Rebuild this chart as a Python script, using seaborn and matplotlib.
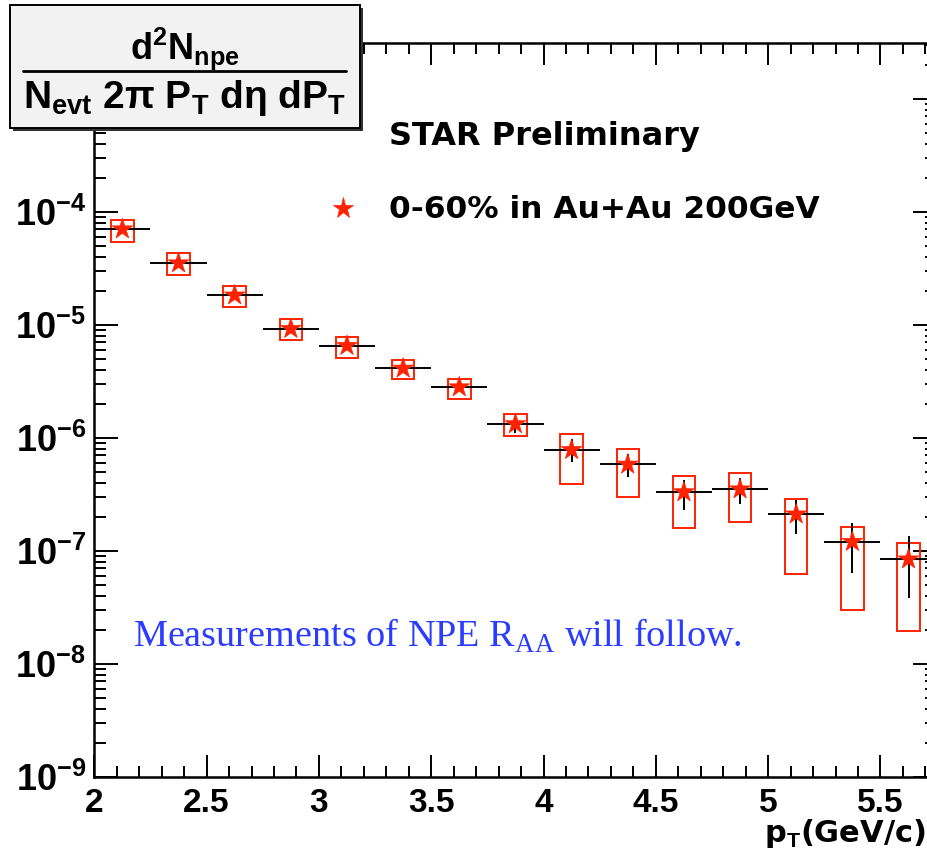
import numpy as np
import pandas as pd
import matplotlib
matplotlib.use("Agg")
import matplotlib.pyplot as plt
import seaborn as sns
from matplotlib.patches import Rectangle
from matplotlib.lines import Line2D
from matplotlib.ticker import FixedLocator, FuncFormatter, NullFormatter

# ── Data ────────────────────────────────────────────────────────────────────
pt_center = [2.125, 2.375, 2.625, 2.875, 3.125, 3.375, 3.625, 3.875,
             4.125, 4.375, 4.625, 4.875, 5.125, 5.375, 5.625]
pt_halfwidth = 0.125
yield_val = [7.0e-5, 3.5e-5, 1.82e-5, 9.2e-6, 6.5e-6, 4.1e-6, 2.8e-6, 1.32e-6,
             7.8e-7, 5.8e-7, 3.3e-7, 3.5e-7, 2.1e-7, 1.2e-7, 8.4e-8]
stat_lo = [6.7e-5, 3.35e-5, 1.75e-5, 8.8e-6, 6.2e-6, 3.9e-6, 2.65e-6, 1.09e-6,
           6.1e-7, 4.47e-7, 2.29e-7, 2.59e-7, 1.41e-7, 6.3e-8, 3.8e-8]
stat_hi = [7.3e-5, 3.65e-5, 1.9e-5, 9.6e-6, 6.8e-6, 4.3e-6, 2.95e-6, 1.53e-6,
           9.7e-7, 7.2e-7, 4.2e-7, 4.38e-7, 2.81e-7, 1.77e-7, 1.35e-7]
sys_lo = [5.43e-5, 2.74e-5, 1.44e-5, 7.3e-6, 5.1e-6, 3.29e-6, 2.19e-6, 1.04e-6,
          3.9e-7, 3.0e-7, 1.58e-7, 1.81e-7, 6.2e-8, 3.0e-8, 1.96e-8]
sys_hi = [8.45e-5, 4.28e-5, 2.2e-5, 1.12e-5, 7.8e-6, 4.87e-6, 3.33e-6, 1.62e-6,
          1.08e-6, 8.0e-7, 4.6e-7, 4.88e-7, 2.86e-7, 1.63e-7, 1.16e-7]
sys_box_halfwidth = 0.05

df = pd.DataFrame({"pt": pt_center, "y": yield_val,
                   "stat_lo": stat_lo, "stat_hi": stat_hi,
                   "sys_lo": sys_lo, "sys_hi": sys_hi})
df["label"] = "0-60% in Au+Au 200GeV"

RED = "#ff2200"
BLUE = "#2a3cff"

sns.set_style("ticks")
plt.rcParams["font.family"] = ["Liberation Sans", "DejaVu Sans"]
plt.rcParams["text.color"] = "black"
plt.rcParams["mathtext.fontset"] = "custom"
plt.rcParams["mathtext.rm"] = "Liberation Serif"
plt.rcParams["mathtext.bf"] = "Liberation Sans:bold"
plt.rcParams["mathtext.it"] = "Liberation Sans:italic"

W, H = 928, 855
fig = plt.figure(figsize=(W / 100, H / 100), dpi=100)
ax = fig.add_axes([94.3 / W, (H - 776.7) / H, 842.3 / W, 733.7 / H])
ax.set_yscale("log")
ax.set_xlim(2.0, 5.75)
ax.set_ylim(1e-9, 3.11e-3)

# systematic boxes
for r in df.itertuples():
    ax.add_patch(Rectangle((r.pt - sys_box_halfwidth, r.sys_lo), 2 * sys_box_halfwidth,
                           r.sys_hi - r.sys_lo, fill=False, edgecolor=RED,
                           linewidth=1.4, zorder=2))

# bin width and statistical errors
ax.hlines(df["y"], df["pt"] - pt_halfwidth, df["pt"] + pt_halfwidth,
          color="black", linewidth=1.4, zorder=3)
ax.vlines(df["pt"], df["stat_lo"], df["stat_hi"], color="black",
          linewidth=1.4, zorder=3)

sns.scatterplot(data=df, x="pt", y="y", hue="label", palette=[RED], marker="*",
                s=240, edgecolor=RED, linewidth=0.5, zorder=4, ax=ax, legend=True)

# ── Axes styling, ROOT-like ─────────────────────────────────────────────────
for sp in ax.spines.values():
    sp.set_linewidth(1.8)
    sp.set_color("black")
    sp.set_visible(True)

ax.xaxis.set_major_locator(FixedLocator(np.arange(2.0, 5.76, 0.5)))
ax.xaxis.set_minor_locator(FixedLocator(np.arange(2.0, 5.76, 0.1)))
ax.xaxis.set_major_formatter(FuncFormatter(lambda v, p: f"{v:g}"))
decades = [10.0 ** e for e in range(-9, -2)]
ax.yaxis.set_major_locator(FixedLocator(decades))
ax.yaxis.set_minor_locator(FixedLocator([m * d for d in decades for m in range(2, 10)]))


def decade_label(v, p):
    e = int(round(np.log10(v)))
    if e > -4:  # hidden under the title pave in the original
        return ""
    return r"$\mathbf{10^{%d}}$" % e


ax.yaxis.set_major_formatter(FuncFormatter(decade_label))
ax.yaxis.set_minor_formatter(NullFormatter())

ax.tick_params(axis="both", which="both", direction="in", top=True, right=True,
               width=1.4, colors="black")
ax.tick_params(axis="x", which="major", length=16, pad=8, labelsize=24)
ax.tick_params(axis="x", which="minor", length=8)
ax.tick_params(axis="y", which="major", length=17, pad=6, labelsize=26)
ax.tick_params(axis="y", which="minor", length=8.5)
for lab in ax.get_xticklabels():
    lab.set_fontweight("bold")
ax.set_xlabel("")
ax.set_ylabel("")

fig.text(926 / W, 1 - 842 / H, r"p$_{\mathbf{T}}$(GeV/c)", ha="right", va="baseline",
         fontsize=22, fontweight="bold", family="DejaVu Sans")

# legend and labels
ax.legend(loc="center left", bbox_to_anchor=(327.4 / W, 1 - 210 / H),
          bbox_transform=fig.transFigure, frameon=False, borderpad=0,
          borderaxespad=0, handlelength=1.0, handletextpad=0.97,
          prop={"family": "DejaVu Sans", "weight": "bold", "size": 22.5})
fig.text(389 / W, 1 - 137 / H, "STAR Preliminary", ha="left", va="center",
         fontsize=23, fontweight="bold", family="DejaVu Sans")
fig.text(133 / W, 1 - 636 / H, r"Measurements of NPE R$_{\mathrm{AA}}$ will follow.",
         ha="left", va="center", fontsize=27.5, family="Liberation Serif", color=BLUE)

# title pave with the fraction (ROOT style, with shadow)
fig.patches.append(Rectangle((13 / W, 1 - 131 / H), 350 / W, 123 / H,
                             transform=fig.transFigure, facecolor="#333333",
                             edgecolor="none", zorder=5))
fig.patches.append(Rectangle((10 / W, 1 - 128 / H), 350 / W, 123 / H,
                             transform=fig.transFigure, facecolor="#f2f2f2",
                             edgecolor="black", linewidth=1.4, zorder=6))
fig.lines.append(Line2D([23 / W, 346 / W], [1 - 71 / H, 1 - 71 / H],
                        transform=fig.transFigure, color="black", linewidth=2, zorder=7))
fig.text(185 / W, 1 - 49 / H, r"$\mathbf{d^2N_{npe}}$", ha="center", va="center",
         fontsize=26, zorder=8)
fig.text(185 / W, 1 - 98 / H, r"$\mathbf{N_{evt}\ 2\pi\ P_T\ d\eta\ dP_T}$",
         ha="center", va="center", fontsize=28, zorder=8)

fig.savefig("out.png", dpi=100)
